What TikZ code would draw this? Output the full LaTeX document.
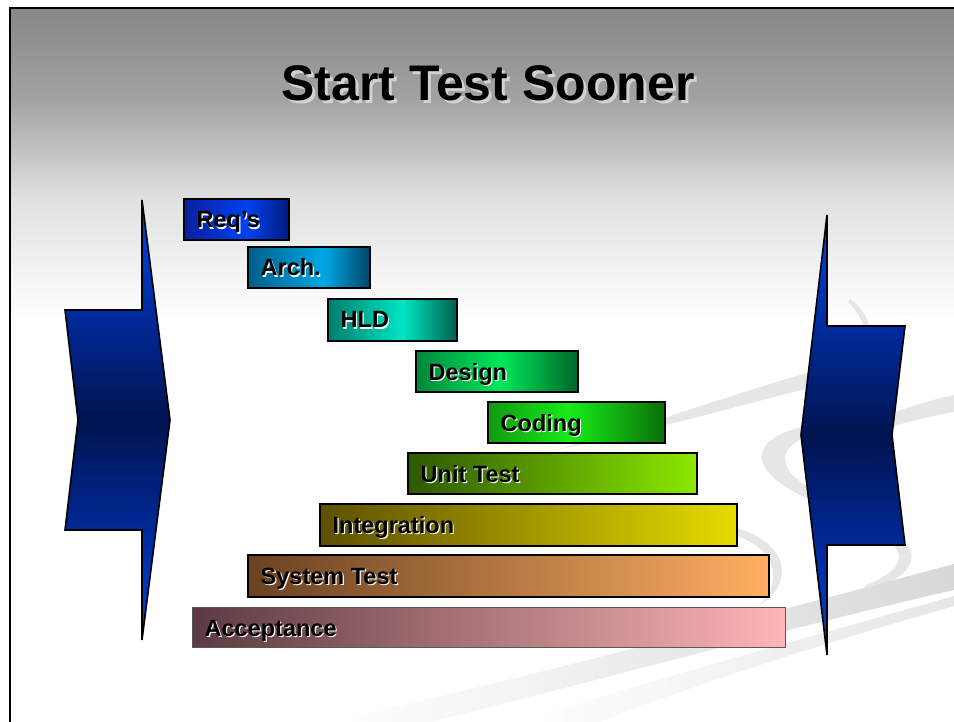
\documentclass[tikz,border=0pt]{standalone}
\usepackage{fontspec}
\setmainfont{Liberation Sans}
\usetikzlibrary{calc}
\definecolor{bgA}{HTML}{878787}
\definecolor{bgB}{HTML}{A3A3A3}
\definecolor{bgC}{HTML}{E1E1E1}
\definecolor{titleSh}{HTML}{D2D2D2}
\definecolor{arrTop}{HTML}{0044EE}
\definecolor{arrMid}{HTML}{00134F}
\definecolor{arrBot}{HTML}{0040E0}
\definecolor{reqL}{HTML}{0A1E9E}\definecolor{reqM}{HTML}{0042F0}\definecolor{reqR}{HTML}{001A7E}
\definecolor{archL}{HTML}{005E8A}\definecolor{archM}{HTML}{00A8E6}\definecolor{archR}{HTML}{004468}
\definecolor{hldL}{HTML}{007E6E}\definecolor{hldM}{HTML}{00E6C4}\definecolor{hldR}{HTML}{005E4E}
\definecolor{desL}{HTML}{00873A}\definecolor{desM}{HTML}{00E85A}\definecolor{desR}{HTML}{00662A}
\definecolor{codL}{HTML}{119911}\definecolor{codM}{HTML}{18EC18}\definecolor{codR}{HTML}{0A6E0A}
\definecolor{unitL}{HTML}{2E5800}\definecolor{unitR}{HTML}{8CE800}
\definecolor{intL}{HTML}{5C5000}\definecolor{intR}{HTML}{E6DC00}
\definecolor{sysL}{HTML}{6A4222}\definecolor{sysR}{HTML}{FFAF62}
\definecolor{accL}{HTML}{5C3A42}\definecolor{accR}{HTML}{FFB6B6}
\definecolor{swA}{HTML}{E6E6E6}
\definecolor{swB}{HTML}{D8D8D8}
\newcommand\mkshade[5]{\pgfdeclarehorizontalshading{#1}{100bp}{color(0bp)=(#2); color(25bp)=(#2); color(#3bp)=(#4); color(75bp)=(#5); color(100bp)=(#5)}}
\mkshade{reqsh}{reqL}{55}{reqM}{reqR}
\mkshade{archsh}{archL}{56}{archM}{archR}
\mkshade{hldsh}{hldL}{54}{hldM}{hldR}
\mkshade{dessh}{desL}{51}{desM}{desR}
\mkshade{codsh}{codL}{48}{codM}{codR}
\begin{document}
\begin{tikzpicture}[x=1pt,y=-1pt,
  box/.style={draw=black, line width=1.6pt, inner sep=0pt, outer sep=0pt, anchor=north west, minimum height=41pt},
  lbl/.style={font=\fontsize{23.5}{28}\selectfont\bfseries, inner sep=0pt, anchor=base west},
  ttl/.style={font=\fontsize{50}{60}\selectfont\bfseries, inner sep=0pt, anchor=base},
  bigarrow/.style={draw=black, line width=1.6pt, line join=miter, top color=arrTop, bottom color=arrBot, middle color=arrMid},
  swl/.style={fill=swA, draw=none},
]
\newcommand\boxlabel[3]{%
  \node[lbl, text=white] (#1s) at ($(#2.north west)+(13.7,30.2)$) {#3};
  \node[lbl] (#1) at ($(#2.north west)+(12.5,29)$) {#3};}
\useasboundingbox (0,0) rectangle (954,722);
\fill[white] (0,0) rectangle (954,722);
\shade[top color=bgA, bottom color=bgB] (10,8) rectangle (954,100.5);
\shade[top color=bgB, bottom color=bgC] (10,100) rectangle (954,200.5);
\shade[top color=bgC, bottom color=white] (10,200) rectangle (954,320);
% background swoosh
\fill[swl] (555,450) .. controls (650,425) and (750,388) .. (818,370) -- (818,386) .. controls (750,402) and (650,432) .. (555,450) -- cycle;
\fill[swl] (872,420) .. controls (900,410) and (930,400) .. (954,395) -- (954,412) .. controls (930,416) and (900,424) .. (872,432) -- cycle;
\fill[swl] (815,424) .. controls (735,438) and (745,482) .. (845,512) -- (845,503) .. controls (775,480) and (768,448) .. (815,433) -- cycle;
\fill[swl] (728,526) .. controls (792,540) and (795,585) .. (758,606) -- (764,600) .. controls (782,578) and (776,546) .. (728,533) -- cycle;
\fill[swl] (885,533) .. controls (925,543) and (922,578) .. (862,592) -- (866,585) .. controls (906,570) and (906,550) .. (885,540) -- cycle;
\fill[swl] (850,299) .. controls (862,307) and (869,320) .. (872,336) -- (866,336) .. controls (863,322) and (858,311) .. (848,302) -- cycle;
\shade[left color=white, right color=swB] (330,722) .. controls (560,670) and (800,605) .. (954,564) -- (954,590) .. controls (800,625) and (600,680) .. (430,722) -- cycle;
\shade[left color=white, right color=swA] (520,722) .. controls (650,680) and (800,640) .. (954,596) -- (954,606) .. controls (800,650) and (680,690) .. (600,722) -- cycle;
% frame
\draw[line width=2.6pt, line join=miter] (10,722) -- (10,8) -- (954,8);
% title
\node[ttl, text=titleSh] (titlesh) at (491,104) {Start Test Sooner};
\node[ttl] (title) at (488,101) {Start Test Sooner};
% side arrows
\draw[bigarrow] (142,200) -- (170,420) -- (142,640) -- (142,530) -- (65,530) -- (78,420) -- (65,310) -- (142,310) -- cycle;
\draw[bigarrow] (827,215) -- (801,435) -- (827,655) -- (827,545) -- (905,545) -- (892,435) -- (905,326) -- (827,326) -- cycle;
% phase boxes
\node[box, shade, shading=reqsh, minimum width=105pt] (req) at (184,199) {};
\node[box, shade, shading=archsh, minimum width=122pt] (arch) at (248,247) {};
\node[box, shade, shading=hldsh, minimum width=129pt, minimum height=42pt] (hld) at (328,299) {};
\node[box, shade, shading=dessh, minimum width=162pt] (des) at (416,351) {};
\node[box, shade, shading=codsh, minimum width=177pt] (cod) at (488,402) {};
\node[box, left color=unitL, right color=unitR, minimum width=289pt] (unit) at (408,453) {};
\node[box, left color=intL, right color=intR, minimum width=417pt, minimum height=42pt] (integ) at (320,504) {};
\node[box, left color=sysL, right color=sysR, minimum width=521pt, minimum height=42pt] (sys) at (248,555) {};
\node[box, draw=black!65, line width=1pt, left color=accL, right color=accR, minimum width=593pt, minimum height=40pt] (acc) at (192,607) {};
\boxlabel{reqt}{req}{Req’s}
\boxlabel{archt}{arch}{Arch.}
\boxlabel{hldt}{hld}{HLD}
\boxlabel{dest}{des}{Design}
\boxlabel{codt}{cod}{Coding}
\boxlabel{unitt}{unit}{Unit Test}
\boxlabel{integt}{integ}{Integration}
\boxlabel{syst}{sys}{System Test}
\boxlabel{acct}{acc}{Acceptance}
\end{tikzpicture}
\end{document}
